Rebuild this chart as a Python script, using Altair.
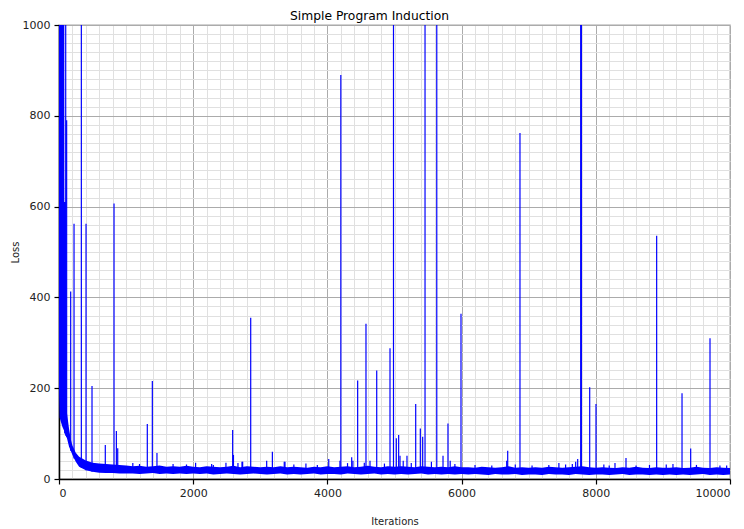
import altair as alt
import pandas as pd

title_text = "Simple Program Induction"
x_title = "Iterations"
y_title = "Loss"

# envelope of the dense noisy loss band (iteration, low, high)
band_iter = [0, 10, 50, 78, 80, 105, 115, 150, 175, 200, 250, 300, 400, 500] + list(range(600, 10001, 100))
band_lo = [200, 135, 115, 106, 105, 95, 92, 71, 62, 53, 38, 27, 19, 16,
           14, 13, 13, 12, 12,
           12, 11, 12, 13, 11, 12, 11, 12, 11, 12,
           11, 12, 10, 11, 12, 11, 10, 11, 12, 11,
           10, 11, 12, 10, 11, 10, 11, 12, 10, 11,
           11, 10, 12, 11, 10, 11, 12, 10, 11, 10,
           11, 10, 11, 12, 10, 11, 10, 11, 10, 11,
           10, 11, 10, 9, 11, 10, 10, 11, 9, 10,
           10, 9, 11, 10, 10, 9, 11, 10, 9, 10,
           10, 9, 10, 11, 9, 10, 10, 9, 10, 9,
           10, 9, 10, 9, 10, 11, 9, 10, 9, 10]
band_hi = [1500, 1500, 1500, 1500, 610, 610, 150, 110, 88, 74, 58, 49, 41, 36,
           34, 33, 32, 31, 30,
           28, 29, 27, 28, 30, 27, 28, 27, 29, 27,
           26, 28, 27, 26, 27, 29, 26, 28, 27, 26,
           27, 26, 28, 26, 27, 26, 25, 27, 26, 28,
           26, 27, 28, 26, 27, 29, 27, 26, 28, 27,
           28, 27, 26, 28, 27, 26, 27, 26, 28, 26,
           26, 25, 27, 26, 25, 26, 28, 25, 26, 25,
           26, 25, 27, 26, 25, 26, 27, 28, 26, 25,
           26, 25, 24, 26, 25, 27, 25, 24, 26, 25,
           25, 26, 24, 25, 27, 25, 24, 26, 25, 24]

# isolated loss spikes (iteration, loss where the spike leaves the band, peak loss)
spike_iter = [85, 100, 114, 174, 224, 333, 403, 492, 690, 820, 855, 875, 1316, 1391, 1460,
              2588, 2600, 2737, 2857, 3095, 3180, 3368, 4020, 4200, 4362, 4380, 4451, 4575,
              4635, 4735, 4933, 4985, 5027, 5062, 5082, 5130, 5186, 5316, 5385, 5420, 5455,
              5630, 5723, 5797, 5830, 5991, 6672, 6687, 6870, 7450, 7550, 7730, 7775, 7785,
              7909, 8003, 8120, 8286, 8450, 8907, 9285, 9414, 9702]
spike_base = [100, 95, 92, 62, 45, 25, 19, 16, 15, 15, 15, 15, 15, 15, 15,
              15, 15, 15, 15, 15, 15, 15, 15, 15, 15, 15, 15, 15,
              15, 15, 15, 15, 15, 15, 15, 15, 15, 15, 15, 15, 15,
              15, 15, 15, 15, 15, 15, 15, 15, 15, 15, 15, 15, 15,
              15, 15, 15, 15, 15, 15, 15, 15, 15]
spike_peak = [610, 1500, 790, 413, 562, 1500, 562, 205, 75, 607, 106, 68, 121, 216, 57,
              108, 53, 38, 355, 40, 60, 38, 44, 890, 48, 40, 217, 342,
              40, 239, 288, 1500, 90, 97, 51, 40, 51, 165, 111, 93, 1500,
              1500, 51, 122, 40, 364, 40, 62, 762, 35, 32, 44, 1500, 1500,
              202, 165, 32, 35, 46, 536, 189, 67, 310]

# small bumps on top of the band
bump_iter = [1100, 1200, 1700, 1900, 2036, 2275, 2300, 2488, 2667, 2727, 3357, 3500, 3680,
             3850, 4187, 4300, 4550, 4850, 5250, 5550, 5900, 6200, 6450, 6800, 7050, 7300,
             7650, 7700, 8200, 8600, 8800, 9050, 9150, 9500, 9850, 9950]
bump_peak = [35, 33, 33, 32, 36, 33, 31, 36, 35, 38, 38, 32, 34,
             31, 40, 35, 36, 34, 35, 38, 33, 31, 30, 32, 30, 31,
             33, 38, 30, 30, 31, 32, 33, 31, 30, 30]

band_df = pd.DataFrame({"iter": band_iter, "lo": band_lo, "hi": band_hi})
spike_df = pd.DataFrame({
    "iter": spike_iter + bump_iter,
    "base": spike_base + [15] * len(bump_iter),
    "peak": spike_peak + bump_peak,
})

FONT = "DejaVu Sans"
xs = alt.Scale(domain=[0, 10000], nice=False, zero=False)
ys = alt.Scale(domain=[0, 1000], nice=False)

minor_grid = alt.Chart(band_df).mark_point(opacity=0).encode(
    x=alt.X("iter:Q", scale=xs, axis=alt.Axis(
        values=list(range(0, 10001, 200)), grid=True, gridColor="#e0e0e0",
        labels=False, ticks=False, domain=False, title=None, orient="bottom")),
    y=alt.Y("lo:Q", scale=ys, axis=alt.Axis(
        values=list(range(0, 1001, 20)), grid=True, gridColor="#e0e0e0",
        labels=False, ticks=False, domain=False, title=None, orient="left")),
)

major_grid = alt.Chart(band_df).mark_point(opacity=0).encode(
    x=alt.X("iter:Q", scale=xs, axis=alt.Axis(
        values=list(range(0, 10001, 2000)), grid=True, gridColor="#ababab", format="d",
        domainColor="black", domainWidth=1.5, tickColor="black", tickWidth=1.2, tickSize=5,
        labelFont=FONT, labelFontSize=11, labelColor="#222222", labelPadding=3,
        title=x_title, titleFont=FONT, titleFontSize=10, titleFontWeight="normal",
        titleColor="#222222", titlePadding=18, orient="bottom")),
    y=alt.Y("lo:Q", scale=ys, axis=alt.Axis(
        values=list(range(0, 1001, 200)), grid=True, gridColor="#ababab", format="d",
        domainColor="black", domainWidth=1.5, tickColor="black", tickWidth=1.2, tickSize=5,
        labelFont=FONT, labelFontSize=11, labelColor="#222222", labelPadding=4,
        title=y_title, titleFont=FONT, titleFontSize=10, titleFontWeight="normal",
        titleColor="#222222", titlePadding=2, orient="left")),
)

band = alt.Chart(band_df).mark_area(color="#0000ff", opacity=1, clip=True).encode(
    x=alt.X("iter:Q", scale=xs, axis=None),
    y=alt.Y("lo:Q", scale=ys, axis=None),
    y2="hi:Q",
)

spikes = alt.Chart(spike_df).mark_rule(color="#0000ff", strokeWidth=1.2, clip=True).encode(
    x=alt.X("iter:Q", scale=xs, axis=None),
    y=alt.Y("peak:Q", scale=ys, axis=None),
    y2="base:Q",
)

chart = alt.layer(minor_grid, major_grid, band, spikes).resolve_axis(
    x="independent", y="independent"
).properties(
    width=671,
    height=454,
    title=alt.TitleParams(title_text, font=FONT, fontSize=12.3, fontWeight="normal",
                          color="black", dx=-25, offset=-3),
    autosize=alt.AutoSizeParams(type="none"),
    padding={"left": 51, "top": 17, "right": 6, "bottom": 50},
).configure_view(stroke="#c4c4c4", strokeWidth=1.5)

chart.save("out.html", embed_options={"renderer": "svg", "actions": False})
